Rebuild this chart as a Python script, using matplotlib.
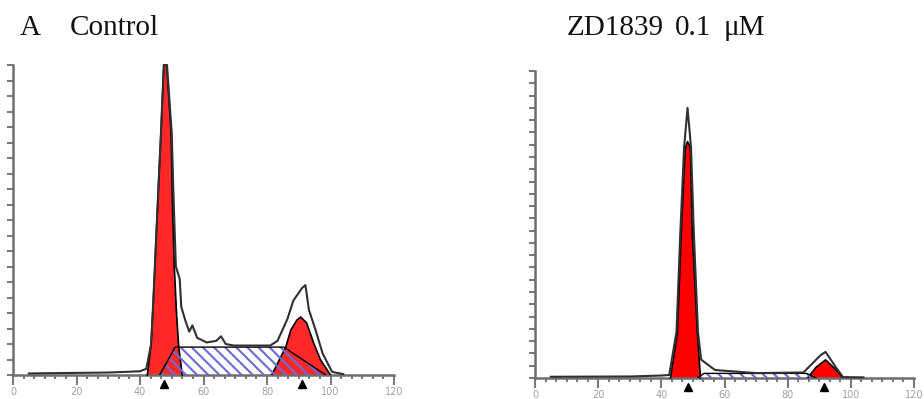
import matplotlib.pyplot as plt
from matplotlib.ticker import MultipleLocator
from matplotlib.transforms import blended_transform_factory

plt.rcParams['hatch.linewidth'] = 1.5

# Control panel (channel, relative count)
ctrl_env_x = [5, 30, 40, 42, 43.5, 44.2, 45.6, 46.6, 47.5, 48.5, 50.0, 50.6, 51.3, 52.5, 53.0,
              54.3, 55.5, 56.5, 58, 61, 64, 65.5, 67, 69.5, 81, 83.3, 86.4, 88.3, 91.0, 92.1,
              93.2, 95.3, 97.5, 100.5, 104]
ctrl_env_y = [0.5, 0.8, 1.2, 2, 10, 24, 56, 78, 100, 100, 78, 56, 35, 31, 22,
              17.5, 14, 16, 12, 10.5, 11, 12.5, 10, 9.5, 9.5, 11, 18, 24, 28, 29,
              21, 14.5, 7, 1, 0.3]
ctrl_g1_x = [42.3, 43.5, 44.2, 45.6, 46.6, 47.5, 48.4, 49.8, 50.2, 50.8, 51.5, 52.2, 53.3]
ctrl_g1_y = [0, 10, 24, 56, 78, 100, 100, 78, 56, 35, 20, 9, 0]
ctrl_s_x = [46.2, 51.1, 85.3, 98.5]
ctrl_s_y = [0, 9, 9, 0]
ctrl_g2_x = [81.5, 85.9, 87.5, 89.4, 90.6, 92.5, 94.7, 96.9, 100.0]
ctrl_g2_y = [0, 9, 14.5, 17.7, 18.7, 16.8, 10.3, 4.8, 0]
ctrl_marks = [47.5, 91.0]

# ZD1839 0.1 uM panel
zd_env_x = [5, 30, 40, 42.5, 44.8, 46.0, 47.2, 48.3, 49.4, 50.3, 51.6, 52.6, 54.0, 57,
            70, 85, 87.3, 90.5, 92.0, 95.2, 97.5, 104]
zd_env_y = [0.4, 0.5, 0.8, 1, 15, 47, 75, 88, 75, 47, 15, 6, 4.9, 2.6,
            1.6, 1.8, 4.2, 7.5, 8.5, 3.6, 0.3, 0.2]
zd_g1_x = [42.9, 45.1, 46.3, 47.6, 48.3, 49.2, 49.8, 51.4, 52.4]
zd_g1_y = [0, 14.7, 47, 75, 77, 75, 47, 14.7, 0]
zd_s_x = [51.5, 53.5, 86.0, 89.0]
zd_s_y = [0, 1.5, 1.5, 0]
zd_g2_x = [86.3, 89.0, 92.0, 95.0, 97.5]
zd_g2_y = [0, 3.5, 5.9, 3.0, 0]
zd_marks = [48.3, 91.5]

xticks = [0, 20, 40, 60, 80, 100, 120]


def draw_panel(ax, env_x, env_y, g1_x, g1_y, s_x, s_y, g2_x, g2_y, marks, red, ystep):
    ax.fill(g1_x, g1_y, color=red, lw=0, zorder=2, clip_on=False)
    ax.fill(g2_x, g2_y, color=red, lw=0, zorder=2)
    ax.plot(g1_x, g1_y, color='black', lw=1.2, zorder=3, clip_on=False)
    ax.plot(g2_x, g2_y, color='black', lw=1.2, zorder=3)
    ax.fill(s_x, s_y, facecolor='none', edgecolor='#6a6ad8', hatch='\\\\\\',
            lw=0, zorder=4)
    ax.plot(s_x, s_y, color='black', lw=1.0, zorder=5)
    ax.plot(env_x, env_y, color='#303030', lw=1.5, zorder=6, clip_on=False)

    trans = blended_transform_factory(ax.transData, ax.transAxes)
    ax.plot(marks, [-0.03] * len(marks), '^', color='black', ms=6,
            transform=trans, clip_on=False, zorder=7)

    ax.set_xlim(0, 120)
    ax.set_ylim(0, 100)
    for side in ['top', 'right']:
        ax.spines[side].set_visible(False)
    for side in ['left', 'bottom']:
        ax.spines[side].set_color('#6e6e6e')
        ax.spines[side].set_linewidth(1.8)
    ax.set_xticks(xticks)
    ax.set_xticklabels([str(t) for t in xticks])
    ax.xaxis.set_minor_locator(MultipleLocator(20 / 6))
    ax.yaxis.set_major_locator(MultipleLocator(ystep))
    ax.tick_params(axis='x', which='major', direction='out', length=7, width=1.5,
                   color='#7a7a7a', labelsize=7, labelcolor='#a0a0a0', pad=1.5)
    ax.tick_params(axis='x', which='minor', direction='out', length=3, width=1.5,
                   color='#7a7a7a')
    ax.tick_params(axis='y', direction='out', length=4, width=1.5,
                   color='#7a7a7a', labelleft=False)


fig = plt.figure(figsize=(9.24, 3.99), dpi=100)
ax1 = fig.add_axes([13 / 924, 1 - 375 / 399, 381 / 924, 310 / 399])
ax2 = fig.add_axes([535 / 924, 1 - 378 / 399, 379 / 924, 307 / 399])

draw_panel(ax1, ctrl_env_x, ctrl_env_y, ctrl_g1_x, ctrl_g1_y, ctrl_s_x, ctrl_s_y,
           ctrl_g2_x, ctrl_g2_y, ctrl_marks, '#ff2828', 5)
draw_panel(ax2, zd_env_x, zd_env_y, zd_g1_x, zd_g1_y, zd_s_x, zd_s_y,
           zd_g2_x, zd_g2_y, zd_marks, '#ff0000', 4)

title_kw = dict(fontsize=21, family=['Liberation Serif', 'DejaVu Serif'],
                va='baseline', ha='left', color='#111111')
base_y = 1 - 35 / 399
fig.text(20 / 924, base_y, 'A', **title_kw)
fig.text(70 / 924, base_y, 'Control', **title_kw)
fig.text(567 / 924, base_y, 'ZD1839', **title_kw)
fig.text(675 / 924, base_y, '0.1', **title_kw)
fig.text(724 / 924, base_y, 'μM', **title_kw)

fig.savefig('out.png', dpi=100)
